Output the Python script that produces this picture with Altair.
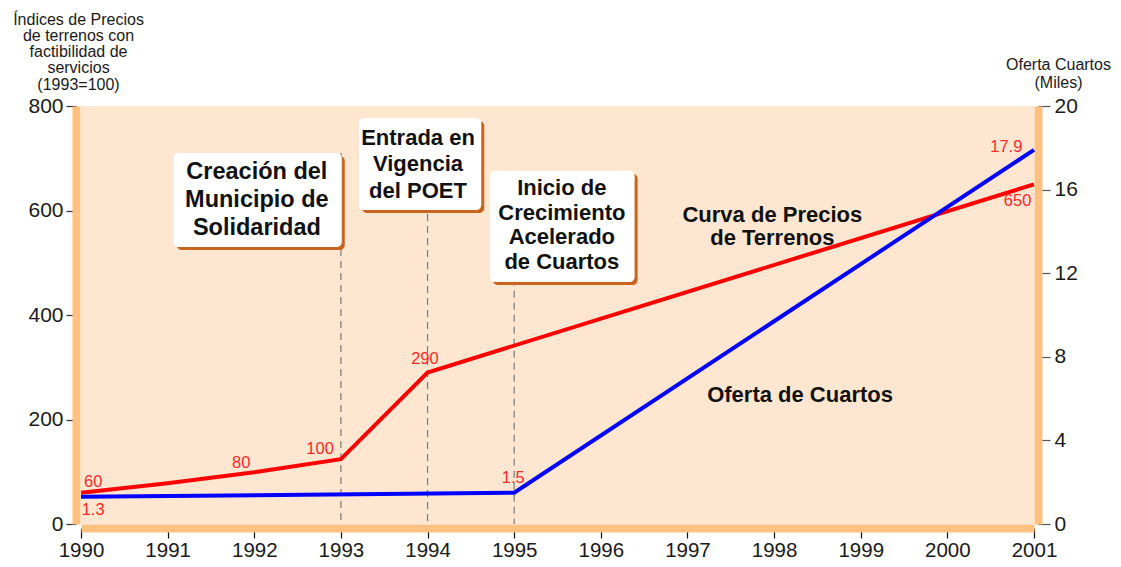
import altair as alt
import pandas as pd

# ---------------- data ----------------
price_years = [1990, 1991, 1992, 1993, 1994, 2001]
price_index = [60, 78, 99, 124, 290, 650]

room_years = [1990, 1995, 2001]
room_supply = [1.3, 1.5, 17.9]

x_ticks = list(range(1990, 2002))
left_ticks = [0, 200, 400, 600, 800]
right_ticks = [0, 4, 8, 12, 16, 20]

value_labels = ["60", "80", "100", "290", "650", "17.9", "1.3", "1.5"]
value_label_year = [1990.14, 1991.85, 1992.76, 1993.97, 2000.81, 2000.68, 1990.14, 1994.99]
value_label_pos = [80, 117, 144, 316, 618, 721, 27, 88]

event_years = [1993, 1994, 1995]
event_texts = [
    "Creación del\nMunicipio de\nSolidaridad",
    "Entrada en\nVigencia\ndel POET",
    "Inicio de\nCrecimiento\nAcelerado\nde Cuartos",
]
box_x1 = [1991.07, 1993.21, 1994.72]
box_x2 = [1993.01, 1994.62, 1996.39]
box_top = [710, 777, 676]
box_bottom = [530, 601, 463]
text_x = [1992.03, 1993.89, 1995.55]
text_first_line_y = [674, 739, 643]
text_font_size = [23.5, 22, 22]
text_line_height = [28, 26.5, 24.5]

series_texts = ["Curva de Precios\nde Terrenos", "Oferta de Cuartos"]
series_text_x = [1997.98, 1998.30]
series_text_y = [591, 247]

FONT = "Liberation Sans"
ORANGE = "#FFC080"

# ---------------- scales / axes ----------------
x_scale = alt.Scale(domain=[1990, 2001], nice=False, zero=False)
x_axis = alt.Axis(values=x_ticks, format="d", title=None, grid=False,
                  labelFontSize=20.5, labelColor="#1a1a1a", labelFont=FONT,
                  tickColor="#111111", tickSize=10, tickWidth=1.2,
                  domainColor=ORANGE, domainWidth=8, offset=4,
                  labelPadding=2, labelFlush=False)

left_scale = alt.Scale(domain=[0, 800], nice=False, zero=True)
left_axis = alt.Axis(values=left_ticks, grid=False,
                     title=["Índices de Precios", "de terrenos con", "factibilidad de",
                            "servicios", "(1993=100)"],
                     titleAngle=0, titleAlign="center", titleBaseline="top",
                     titleX=2, titleY=-95, titleFont=FONT, titleFontSize=16,
                     titleFontWeight="normal", titleColor="#1a1a1a", titleLineHeight=16.3,
                     labelFontSize=21, labelColor="#1a1a1a", labelFont=FONT,
                     tickColor="#333333", tickSize=10, tickWidth=1.2,
                     domainColor=ORANGE, domainWidth=8, offset=5,
                     labelPadding=3, labelFlush=False)

right_scale = alt.Scale(domain=[0, 20], nice=False, zero=True)
right_axis = alt.Axis(values=right_ticks, grid=False, orient="right",
                      title=["Oferta Cuartos", "(Miles)"],
                      titleAngle=0, titleAlign="center", titleBaseline="top",
                      titleX=20, titleY=-50, titleFont=FONT, titleFontSize=16,
                      titleFontWeight="normal", titleColor="#1a1a1a", titleLineHeight=18,
                      labelFontSize=21, labelColor="#1a1a1a", labelFont=FONT,
                      tickColor="#555555", tickSize=12, tickWidth=1.2,
                      domainColor=ORANGE, domainWidth=8, offset=4,
                      labelPadding=4, labelFlush=False)


def X(field):
    return alt.X(field, type="quantitative", scale=x_scale, axis=x_axis)


def YL(field):
    return alt.Y(field, type="quantitative", scale=left_scale, axis=left_axis)


# ---------------- tables ----------------
price_df = pd.DataFrame({"year": price_years, "value": price_index})
room_df = pd.DataFrame({"year": room_years, "rooms": room_supply})
vl_df = pd.DataFrame({"year": value_label_year, "value": value_label_pos, "label": value_labels})
box_df = pd.DataFrame({"year": event_years, "x1": box_x1, "x2": box_x2,
                       "top": box_top, "bottom": box_bottom,
                       "tx": text_x, "ty": text_first_line_y, "label": event_texts,
                       "zero": [0, 0, 0]})
series_df = pd.DataFrame({"year": series_text_x, "value": series_text_y, "label": series_texts})

# ---------------- layers ----------------
rules = alt.Chart(box_df).mark_rule(color="#7a7a7a", strokeDash=[7, 5], strokeWidth=1.2).encode(
    x=X("year"), y=YL("top"), y2=alt.Y2("zero"))

shadows = alt.Chart(box_df).mark_rect(color="#C8641E", cornerRadius=5,
                                      xOffset=3, x2Offset=3, yOffset=3, y2Offset=3).encode(
    x=X("x1"), x2=alt.X2("x2"), y=YL("top"), y2=alt.Y2("bottom"))

boxes = alt.Chart(box_df).mark_rect(color="white", cornerRadius=5).encode(
    x=X("x1"), x2=alt.X2("x2"), y=YL("top"), y2=alt.Y2("bottom"))

box_texts = []
for i, (fs, lh) in enumerate(zip(text_font_size, text_line_height)):
    sub = box_df.iloc[[i]]
    box_texts.append(alt.Chart(sub).mark_text(
        font=FONT, fontSize=fs, fontWeight="bold", color="#111111",
        lineBreak="\n", lineHeight=lh, align="center", baseline="middle").encode(
        x=X("tx"), y=YL("ty"), text="label:N"))

price_line = alt.Chart(price_df).mark_line(color="#FF0000", strokeWidth=4).encode(
    x=X("year"), y=YL("value"))

value_text = alt.Chart(vl_df).mark_text(
    font=FONT, fontSize=16.5, color="#FF2A2A", align="center", baseline="middle").encode(
    x=X("year"), y=YL("value"), text="label:N")

series_text = alt.Chart(series_df).mark_text(
    font=FONT, fontSize=22, fontWeight="bold", color="#111111",
    lineBreak="\n", lineHeight=23, align="center", baseline="middle").encode(
    x=X("year"), y=YL("value"), text="label:N")

left_layer = alt.layer(rules, shadows, boxes, *box_texts, price_line, value_text, series_text)

room_line = alt.Chart(room_df).mark_line(color="#0000FF", strokeWidth=4).encode(
    x=X("year"),
    y=alt.Y("rooms", type="quantitative", scale=right_scale, axis=right_axis))

chart = alt.layer(left_layer, room_line).resolve_scale(y="independent").properties(
    width=953, height=418,
    background="white",
    autosize=alt.AutoSizeParams(type="none"),
    padding={"left": 73, "top": 98, "right": 79, "bottom": 35},
).configure_view(fill="#FEE6D0", strokeWidth=0)

chart.save("out.html", embed_options={"renderer": "svg", "actions": False})
